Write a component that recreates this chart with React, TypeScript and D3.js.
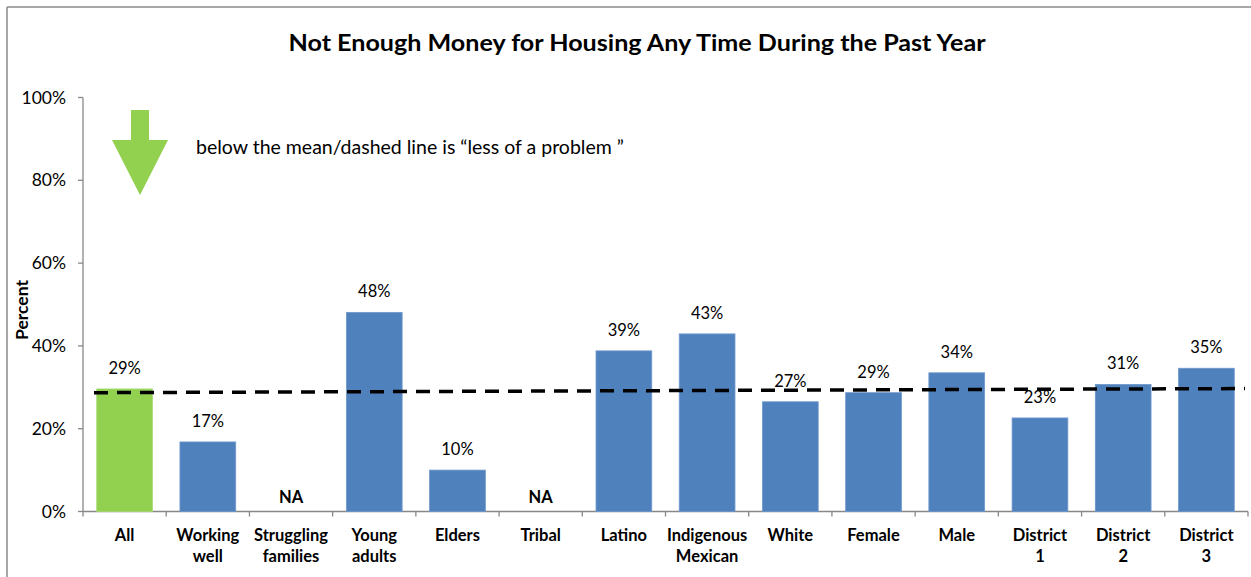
import React from "react";
import * as d3 from "d3";

const categories: string[][] = [
  ["All"], ["Working", "well"], ["Struggling", "families"], ["Young", "adults"],
  ["Elders"], ["Tribal"], ["Latino"], ["Indigenous", "Mexican"], ["White"],
  ["Female"], ["Male"], ["District", "1"], ["District", "2"], ["District", "3"],
];
const values: (number | null)[] = [29.6, 16.8, null, 48.1, 10.0, null, 38.8, 42.9, 26.5, 28.7, 33.5, 22.6, 30.7, 34.6];
const valueLabels: string[] = ["29%", "17%", "NA", "48%", "10%", "NA", "39%", "43%", "27%", "29%", "34%", "23%", "31%", "35%"];
const yTicks: number[] = [0, 20, 40, 60, 80, 100];
const meanLine: number[] = [28.7, 29.7];
const title = "Not Enough Money for Housing Any Time During the Past Year";
const note = "below the mean/dashed line is \u201cless of a problem \u201d";

const W = 1251, H = 577;
const FONT = "Lato, 'Open Sans', sans-serif";

export default function App() {
  const x = d3.scaleBand<number>().domain(d3.range(categories.length)).range([83, 1248]).paddingInner(0.33).paddingOuter(0.165);
  const y = d3.scaleLinear().domain([0, 100]).range([511.5, 97.5]);
  const band = (1248 - 83) / categories.length;
  const axisColor = "#888888";

  return (
    <div style={{ position: "absolute", left: 0, top: 0 }}>
      <svg width={W} height={H} style={{ display: "block", fontFamily: FONT }}>
        <rect x={0} y={0} width={W} height={H} fill="#fff" />
        <line x1={7} x2={7} y1={7} y2={H} stroke="#8a8a8a" strokeWidth={1.5} />
        <line x1={7} x2={W} y1={7} y2={7} stroke="#8a8a8a" strokeWidth={1.5} />
        <text x={637} y={51} textAnchor="middle" fontSize={22.5} fontWeight="bold" fill="#000" textLength={697} lengthAdjust="spacingAndGlyphs">{title}</text>

        {/* y axis */}
        <line x1={83} x2={83} y1={y(100)} y2={y(0)} stroke={axisColor} strokeWidth={1.3} />
        {yTicks.map((t) => (
          <g key={t}>
            <line x1={78} x2={83} y1={y(t)} y2={y(t)} stroke={axisColor} strokeWidth={1.3} />
            <text x={66} y={y(t) + 6} textAnchor="end" fontSize={17.5} fill="#000">{t}%</text>
          </g>
        ))}
        <text transform={`translate(28,310) rotate(-90)`} textAnchor="middle" fontSize={17.5} fontWeight="bold">Percent</text>

        {/* x axis */}
        <line x1={83} x2={1248} y1={y(0)} y2={y(0)} stroke={axisColor} strokeWidth={1.3} />
        {d3.range(categories.length + 1).map((i) => (
          <line key={i} x1={83 + band * i} x2={83 + band * i} y1={y(0)} y2={y(0) + 5} stroke={axisColor} strokeWidth={1.3} />
        ))}

        {/* bars */}
        {values.map((v, i) =>
          v == null ? null : (
            <rect key={i} x={x(i)!} y={y(v)} width={x.bandwidth()} height={y(0) - y(v)}
              fill={i === 0 ? "#92D050" : "#4F81BD"} stroke={i === 0 ? "#a6da73" : "#6f98cc"} strokeWidth={0.8} />
          )
        )}

        {/* value labels */}
        {values.map((v, i) => (
          <text key={i} x={x(i)! + x.bandwidth() / 2} y={v == null ? y(0) - 9 : y(v) - 15}
            textAnchor="middle" fontSize={16.5} fontWeight={v == null ? "bold" : "normal"} fill="#000">
            {valueLabels[i]}
          </text>
        ))}

        {/* category labels */}
        {categories.map((lines, i) => (
          <text key={i} x={x(i)! + x.bandwidth() / 2} textAnchor="middle" fontSize={16.5} fontWeight="bold" fill="#000">
            {lines.map((l, j) => (
              <tspan key={j} x={x(i)! + x.bandwidth() / 2} y={541 + j * 21}>{l}</tspan>
            ))}
          </text>
        ))}

        {/* mean dashed line */}
        <line x1={94} x2={1245} y1={y(meanLine[0])} y2={y(meanLine[1])} stroke="#000" strokeWidth={3.5} strokeDasharray="14,9" />

        {/* arrow */}
        <path d="M131,110 L149,110 L149,140 L168,140 L140,195 L112,140 L131,140 Z" fill="#92D050" />
        <text x={196} y={154} fontSize={19.5} fill="#000">{note}</text>
      </svg>
    </div>
  );
}
